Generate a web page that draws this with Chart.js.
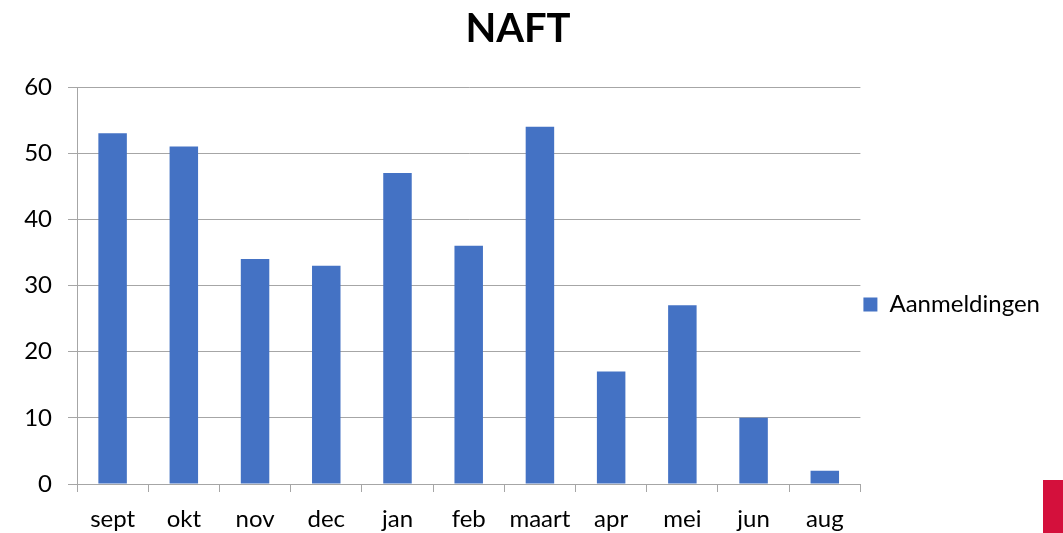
<!DOCTYPE html>
<html>
<head>
<meta charset="utf-8">
<script src="https://cdn.jsdelivr.net/npm/chart.js@4"></script>
<style>
  html, body { margin: 0; padding: 0; background: #fff; }
  #wrap { position: relative; width: 1063px; height: 533px; }
  #logo { position: absolute; left: 1043px; top: 480px; width: 20px; height: 53px; background: #d4103c; }
</style>
</head>
<body>
<div id="wrap">
  <canvas id="myChart" width="1063" height="533"></canvas>
  <div id="logo"></div>
</div>
<script>
"use strict";
var months = ["sept", "okt", "nov", "dec", "jan", "feb", "maart", "apr", "mei", "jun", "aug"];
var aanmeldingen = [53, 51, 34, 33, 47, 36, 54, 17, 27, 10, 2];
var yTicks = [0, 10, 20, 30, 40, 50, 60];

var fontFamily = "Lato, 'Open Sans', sans-serif";
var gridColor = "#a6a6a6";

/* nudge legend and title to where the original ones are */
var boxShift = {
  id: 'boxShift',
  afterLayout: function(chart) {
    chart.legend.top += 38;
    chart.legend.bottom += 38;
    chart.titleBlock.left -= 7;
    chart.titleBlock.right -= 7;
  }
};

var ctx = document.getElementById('myChart').getContext('2d');
var chart = new Chart(ctx, {
  type: 'bar',
  data: {
    labels: months,
    datasets: [{
      label: "Aanmeldingen",
      backgroundColor: '#4472C4',
      borderColor: '#4472C4',
      data: aanmeldingen,
      barPercentage: 0.8,
      categoryPercentage: 0.5
    }]
  },
  options: {
    responsive: false,
    animation: false,
    layout: { padding: { left: 0, right: 13, top: 0, bottom: 0 } },
    plugins: {
      title: {
        display: true,
        text: "NAFT",
        color: "#000",
        font: { family: fontFamily, size: 40, weight: "bold" },
        padding: { top: 5, bottom: 34 }
      },
      legend: {
        position: 'right',
        labels: {
          color: "#000",
          boxWidth: 14,
          boxHeight: 14,
          padding: 3,
          font: { family: fontFamily, size: 24 }
        }
      },
      tooltip: { enabled: false }
    },
    scales: {
      x: {
        grid: { drawOnChartArea: false, color: gridColor, tickLength: 8, offset: true },
        border: { color: gridColor },
        ticks: { color: "#000", padding: 13, font: { family: fontFamily, size: 24 } },
        afterFit: function(s) { s.height = 49; }
      },
      y: {
        min: 0,
        max: 60,
        afterBuildTicks: function(s) {
          s.ticks = yTicks.map(function(v) { return { value: v }; });
        },
        grid: { color: gridColor, tickLength: 9 },
        border: { color: gridColor },
        ticks: { color: "#000", padding: 16, font: { family: fontFamily, size: 24 } },
        afterFit: function(s) { s.width = 77; }
      }
    }
  },
  plugins: [boxShift]
});
</script>
</body>
</html>
